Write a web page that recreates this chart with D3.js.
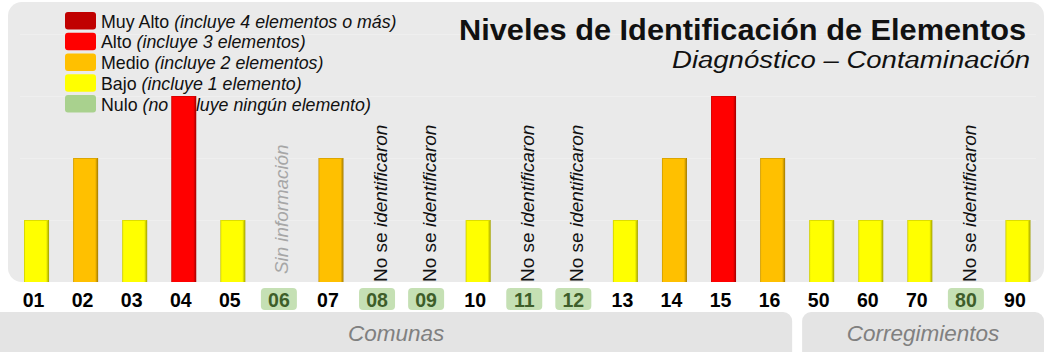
<!DOCTYPE html>
<html>
<head>
<meta charset="utf-8">
<script src="https://cdn.jsdelivr.net/npm/d3@7/dist/d3.min.js"></script>
<style>
  html, body { margin: 0; padding: 0; background: #ffffff; }
  svg { display: block; font-family: "Liberation Sans", Arial, sans-serif; }
</style>
</head>
<body>
<svg id="chart" width="1046" height="352"></svg>
<script>
// Territorial units (comunas 01–16, corregimientos 50–90)
const categories = ["01","02","03","04","05","06","07","08","09","10","11","12","13","14","15","16","50","60","70","80","90"];
// Number of identified elements per unit (null = no information)
const levels = [1, 2, 1, 3, 1, null, 2, 0, 0, 1, 0, 0, 1, 2, 3, 2, 1, 1, 1, 0, 1];

// Level legend, from highest to lowest
const levelValues = [4, 3, 2, 1, 0];
const levelNames  = ["Muy Alto", "Alto", "Medio", "Bajo", "Nulo"];
const levelNotes  = ["(incluye 4 elementos o más)", "(incluye 3 elementos)", "(incluye 2 elementos)", "(incluye 1 elemento)", "(no incluye ningún elemento)"];
const levelColors = ["#C00000", "#FF0000", "#FFC000", "#FFFF00", "#A9D18E"];

// Grouping of units along the axis
const groupNames = ["Comunas", "Corregimientos"];
const groupFirst = ["01", "50"];
const groupLast  = ["16", "90"];

const yTicks = [1, 2, 3, 4];

const title = "Niveles de Identificación de Elementos";
const subtitle = "Diagnóstico – Contaminación";
const noInfoText = "Sin información";
const noneText = ["No se ", "identificaron"];

const svg = d3.select("#chart");

const x = d3.scaleBand().domain(categories).range([12, 1042.5]).paddingInner(0.49).paddingOuter(0.245);
const y = d3.scaleLinear().domain([0, 4]).range([282, 34]);
const color = d3.scaleOrdinal().domain(levelValues).range(levelColors);
const cx = d => x(d) + x.bandwidth() / 2;

// Bar shading gradients
const defs = svg.append("defs");
levelValues.forEach((v, i) => {
  const c = d3.color(levelColors[i]);
  const g = defs.append("linearGradient").attr("id", "grad" + v).attr("x1", 0).attr("x2", 1).attr("y1", 0).attr("y2", 0);
  g.append("stop").attr("offset", "0%").attr("stop-color", c.darker(0.7));
  g.append("stop").attr("offset", "6%").attr("stop-color", c);
  g.append("stop").attr("offset", "88%").attr("stop-color", c);
  g.append("stop").attr("offset", "100%").attr("stop-color", c.darker(1.3));
});

// Plot background
svg.append("rect").attr("x", 8).attr("y", 2).attr("width", 1036).attr("height", y(0) - 2)
  .attr("rx", 14).attr("fill", "#EAEAEA");

// Gridlines
svg.append("g").selectAll("line").data(yTicks).join("line")
  .attr("x1", 20).attr("x2", 1036)
  .attr("y1", d => y(d) + 0.5).attr("y2", d => y(d) + 0.5)
  .attr("stroke", "#EFEFEF").attr("stroke-width", 1);

// Legend
const legend = svg.append("g");
const legendRow = legend.selectAll("g").data(levelValues).join("g")
  .attr("transform", (d, i) => `translate(65, ${12 + i * 20.75})`);
legendRow.append("rect").attr("width", 31).attr("height", 17.5).attr("rx", 3)
  .attr("fill", d => color(d));
const legendText = legendRow.append("text").attr("x", 36).attr("y", 15.5)
  .attr("font-size", 17.8).attr("fill", "#111");
legendText.append("tspan").text((d, i) => levelNames[i] + " ");
legendText.append("tspan").attr("font-style", "italic").text((d, i) => levelNotes[i]);

// Title
svg.append("text").attr("x", 1026).attr("y", 40).attr("text-anchor", "end")
  .attr("font-size", 29).attr("font-weight", "bold").attr("fill", "#111")
  .attr("textLength", 567).attr("lengthAdjust", "spacingAndGlyphs").text(title);
svg.append("text").attr("x", 1030).attr("y", 68).attr("text-anchor", "end")
  .attr("font-size", 23).attr("font-style", "italic").attr("fill", "#111")
  .attr("textLength", 358).attr("lengthAdjust", "spacingAndGlyphs").text(subtitle);

// Bars
const data = categories.map((c, i) => ({ cat: c, v: levels[i] }));
svg.append("g").selectAll("rect").data(data.filter(d => d.v > 0)).join("rect")
  .attr("x", d => x(d.cat)).attr("width", x.bandwidth())
  .attr("y", d => y(d.v)).attr("height", d => y(0) - y(d.v))
  .attr("fill", d => `url(#grad${d.v})`);
// thin top edge on each bar
svg.append("g").selectAll("line").data(data.filter(d => d.v > 0)).join("line")
  .attr("x1", d => x(d.cat) + 1).attr("x2", d => x(d.cat) + x.bandwidth() - 1)
  .attr("y1", d => y(d.v) + 0.5).attr("y2", d => y(d.v) + 0.5)
  .attr("stroke", d => d3.color(color(d.v)).darker(0.4)).attr("stroke-width", 1);

// Vertical notes for units without bars
const notes = svg.append("g");
data.filter(d => d.v === null).forEach(d => {
  notes.append("text").attr("transform", `translate(${cx(d.cat) + 6}, 274) rotate(-90)`)
    .attr("font-size", 18.8).attr("font-style", "italic").attr("fill", "#A6A6A6").text(noInfoText);
});
data.filter(d => d.v === 0).forEach(d => {
  const t = notes.append("text").attr("transform", `translate(${cx(d.cat) + 7}, 282) rotate(-90)`)
    .attr("font-size", 19).attr("fill", "#111");
  t.append("tspan").text(noneText[0]);
  t.append("tspan").attr("font-style", "italic").text(noneText[1]);
});

// Category labels
const lx = d => cx(d) - 3;
const labels = svg.append("g");
labels.selectAll("rect").data(data.filter(d => d.v === null || d.v === 0)).join("rect")
  .attr("x", d => lx(d.cat) - 18).attr("y", 288).attr("width", 36).attr("height", 22).attr("rx", 4)
  .attr("fill", "#C5E0B4");
labels.selectAll("text").data(data).join("text")
  .attr("x", d => lx(d.cat)).attr("y", 306.5).attr("text-anchor", "middle")
  .attr("font-size", 19.5).attr("font-weight", "bold")
  .attr("fill", d => (d.v === null || d.v === 0) ? "#3E5E2A" : "#000")
  .text(d => d.cat);

// Group boxes
const gap = (cx(groupLast[0]) + cx(groupFirst[1])) / 2;
const groupBounds = [[-12, gap - 5], [gap + 5, 1044]];
const groups = svg.append("g");
groupNames.forEach((name, i) => {
  const [a, b] = groupBounds[i];
  groups.append("rect").attr("x", a).attr("y", 312).attr("width", b - a).attr("height", 52)
    .attr("rx", 9).attr("fill", "#E4E4E4");
  groups.append("text").attr("x", (a + b) / 2 + (i === 0 ? 6 : 0)).attr("y", 341).attr("text-anchor", "middle")
    .attr("font-size", 22.5).attr("font-style", "italic").attr("fill", "#808080").text(name);
});
</script>
</body>
</html>
